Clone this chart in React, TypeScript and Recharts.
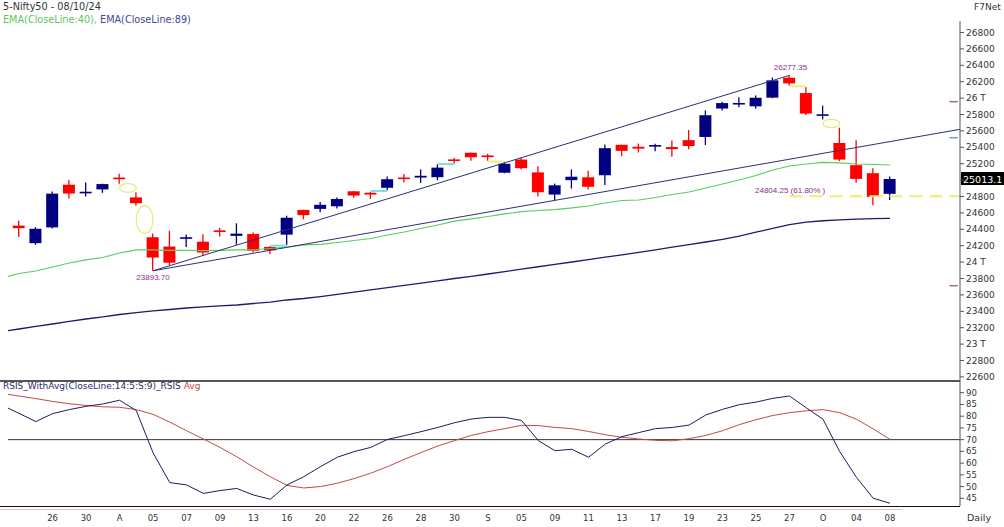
import React from 'react';
import {
  ComposedChart,
  Line,
  Bar,
  XAxis,
  YAxis,
  ReferenceLine,
  ReferenceArea,
  ReferenceDot,
} from 'recharts';

const FONT = '"DejaVu Sans", Verdana, sans-serif';
const SMALL_FONT = '"Liberation Sans", Arial, sans-serif';

const days = [
  'Jul 24', 'Jul 25', 'Jul 26', 'Jul 29', 'Jul 30', 'Jul 31', 'Aug 01', 'Aug 02', 'Aug 05', 'Aug 06',
  'Aug 07', 'Aug 08', 'Aug 09', 'Aug 12', 'Aug 13', 'Aug 14', 'Aug 16', 'Aug 19', 'Aug 20', 'Aug 21',
  'Aug 22', 'Aug 23', 'Aug 26', 'Aug 27', 'Aug 28', 'Aug 29', 'Aug 30', 'Sep 02', 'Sep 03', 'Sep 04',
  'Sep 05', 'Sep 06', 'Sep 09', 'Sep 10', 'Sep 11', 'Sep 12', 'Sep 13', 'Sep 16', 'Sep 17', 'Sep 18',
  'Sep 19', 'Sep 20', 'Sep 23', 'Sep 24', 'Sep 25', 'Sep 26', 'Sep 27', 'Sep 30', 'Oct 01', 'Oct 03',
  'Oct 04', 'Oct 07', 'Oct 08',
];

const opens = [
  24444.75, 24230.95, 24423.35, 24943.3, 24839.4, 24886.7, 25030.95, 24789.0, 24302.85, 24189.85,
  24289.4, 24248.55, 24386.85, 24320.05, 24342.35, 24184.4, 24334.85, 24636.35, 24648.9, 24680.55,
  24863.4, 24845.4, 24906.1, 25024.8, 25030.8, 25035.3, 25249.7, 25333.6, 25300.45, 25089.95,
  25250.5, 25093.7, 24823.4, 24999.4, 25034.0, 25059.05, 25430.45, 25406.65, 25416.9, 25402.4,
  25487.05, 25525.95, 25872.55, 25921.45, 25899.45, 26005.4, 26248.25, 26061.3, 25788.45, 25452.85,
  25181.9, 25084.1, 24832.2,
];
const highs = [
  24504.25, 24426.15, 24861.15, 24999.75, 24971.75, 24956.5, 25078.3, 24851.9, 24350.05, 24382.6,
  24337.7, 24340.5, 24419.75, 24472.8, 24359.95, 24196.5, 24563.9, 24638.8, 24734.3, 24787.95,
  24867.35, 24858.4, 25043.8, 25073.1, 25129.6, 25192.9, 25268.35, 25333.65, 25321.7, 25216.0,
  25275.45, 25168.75, 24957.5, 25130.5, 25113.7, 25433.35, 25430.5, 25445.7, 25441.65, 25482.2,
  25611.95, 25849.25, 25956.0, 26011.55, 26032.8, 26250.9, 26277.35, 26134.7, 25907.6, 25639.45,
  25485.05, 25143.0, 25044.0,
];
const lows = [
  24307.25, 24210.8, 24410.9, 24774.6, 24798.65, 24844.5, 24956.4, 24686.85, 23893.7, 23960.4,
  24184.9, 24079.7, 24311.2, 24212.1, 24116.5, 24099.7, 24204.5, 24522.95, 24607.2, 24654.5,
  24784.45, 24771.65, 24874.7, 24973.65, 24964.65, 24998.5, 25199.4, 25235.5, 25235.8, 25083.8,
  25127.75, 24801.3, 24753.15, 24896.8, 24885.15, 24941.45, 25292.45, 25336.2, 25352.25, 25285.55,
  25376.05, 25426.6, 25847.35, 25886.85, 25871.35, 25998.4, 26151.4, 25794.1, 25739.2, 25230.3,
  24966.8, 24694.35, 24756.8,
];
const closes = [
  24413.5, 24406.1, 24834.85, 24836.1, 24857.3, 24951.15, 25010.9, 24717.7, 24055.6, 23992.55,
  24297.5, 24117.0, 24367.5, 24347.0, 24139.0, 24143.75, 24541.15, 24572.65, 24698.85, 24770.2,
  24811.5, 24823.15, 25010.6, 25017.75, 25052.35, 25151.95, 25235.9, 25278.7, 25279.85, 25198.7,
  25145.1, 24852.15, 24936.4, 25041.1, 24918.45, 25388.9, 25356.5, 25383.75, 25418.55, 25377.55,
  25415.8, 25790.95, 25939.05, 25940.4, 26004.15, 26216.05, 26178.95, 25810.85, 25796.9, 25250.1,
  25014.6, 24795.75, 25013.15,
];

const ema40 = [
  23861, 23891, 23940, 23989, 24026, 24056, 24111, 24148, 24148, 24144,
  24144, 24141, 24144, 24148, 24150, 24166, 24184, 24209, 24215, 24239,
  24263, 24288, 24330, 24367, 24410, 24452, 24500, 24526, 24556, 24587,
  24615, 24629, 24641, 24660, 24684, 24721, 24751, 24757, 24788, 24824,
  24855, 24904, 24952, 25001, 25056, 25123, 25172, 25196, 25215, 25209,
  25196, 25190, 25184,
];
const ema89 = [
  23184, 23215, 23245, 23276, 23306, 23331, 23361, 23385, 23404, 23422,
  23440, 23453, 23465, 23477, 23495, 23513, 23538, 23556, 23579, 23606,
  23634, 23662, 23689, 23717, 23744, 23772, 23800, 23827, 23855, 23884,
  23913, 23943, 23972, 24001, 24031, 24060, 24089, 24118, 24150, 24182,
  24213, 24245, 24276, 24318, 24365, 24410, 24456, 24487, 24504, 24515,
  24524, 24531, 24534,
];

const rsi = [
  81.2, 77.7, 81.1, 82.8, 84.2, 85.2, 86.8, 82.4, 64.4, 51.7,
  50.7, 47.1, 48.3, 49.2, 46.4, 44.6, 50.7, 54.2, 58.5, 62.5,
  64.9, 66.7, 70.1, 71.7, 73.4, 75.2, 77.2, 78.8, 79.5, 79.5,
  78.2, 69.6, 65.3, 65.9, 62.5, 68.1, 71.3, 73.0, 74.7, 75.2,
  76.2, 80.5, 82.9, 84.9, 86.0, 87.6, 88.6, 83.6, 78.7, 64.9,
  53.9, 45.0, 42.9,
];
const rsiAvg = [
  88.6, 87.5, 86.3, 85.3, 84.6, 84.0, 83.8, 82.8, 80.8, 77.5,
  73.8, 70.3, 66.7, 62.7, 58.3, 54.2, 50.5, 49.4, 50.0, 51.4,
  53.4, 55.7, 58.5, 61.6, 64.5, 67.3, 69.6, 71.8, 73.4, 74.7,
  76.1, 76.0, 75.2, 74.7, 73.5, 72.1, 71.0, 70.3, 69.7, 69.5,
  70.4, 71.8, 73.8, 76.4, 78.5, 80.3, 81.5, 82.3, 82.8, 81.5,
  78.7, 74.6, 70.1,
];

// indicator values of the session before the first visible candle (Jul 23)
const priorDay = { ema40: 23806, ema89: 23154, rsi: 84.6, avg: 89.7 };

const axisLabels = [
  '26', '30', 'A', '05', '07', '09', '13', '16', '20', '22', '26', '28', '30',
  'S', '05', '09', '11', '13', '17', '19', '23', '25', '27', 'O', '04', '08',
];
const axisTickIdx = axisLabels.map((_, k) => 2 + 2 * k);

const priceTicks = Array.from({ length: 22 }, (_, k) => 22600 + 200 * k);
const rsiTicks = [45, 50, 55, 60, 65, 70, 75, 80, 85, 90];
const sideMarkLevels = [25956, 25517, 23712];

const XMIN = -0.66;
const XMAX = 56.18;

const swingLow = { i: 8, price: lows[8] };
const swingHigh = { i: 46, price: highs[46] };
const supportAnchor = { i: 32, price: lows[32] };
const fibLevel = swingHigh.price - 0.618 * (swingHigh.price - swingLow.price);
const supportSlope = (supportAnchor.price - swingLow.price) / (supportAnchor.i - swingLow.i);

const mainData: any[] = [
  { x: -1, ema40: priorDay.ema40, ema89: priorDay.ema89 },
  ...days.map((d, i) => ({
    x: i,
    day: d,
    open: opens[i],
    high: highs[i],
    low: lows[i],
    close: closes[i],
    ema40: ema40[i],
    ema89: ema89[i],
  })),
  { x: XMAX, trendB: swingLow.price + supportSlope * (XMAX - swingLow.i) },
];
mainData[swingLow.i + 1].trendA = swingLow.price;
mainData[swingLow.i + 1].trendB = swingLow.price;
mainData[swingHigh.i + 1].trendA = swingHigh.price;
mainData[supportAnchor.i + 1].trendB = supportAnchor.price;

const rsiData = [
  { x: -1, rsi: priorDay.rsi, avg: priorDay.avg },
  ...days.map((d, i) => ({ x: i, day: d, rsi: rsi[i], avg: rsiAvg[i] })),
];

// price gaps between consecutive sessions
const gaps: { i: number; lo: number; hi: number; up: boolean }[] = [];
for (let i = 0; i < days.length - 1; i++) {
  if (lows[i + 1] > highs[i]) gaps.push({ i, lo: highs[i], hi: lows[i + 1], up: true });
  else if (highs[i + 1] < lows[i]) gaps.push({ i, lo: highs[i + 1], hi: lows[i], up: false });
}

const candleRange = (d: any) => (d.high == null ? null : [d.low, d.high]);

function Candle(props: any) {
  const { x, y, width, height, payload } = props;
  if (!payload || payload.high == null || y == null) return null;
  const cx = x + width / 2;
  const yHigh = Math.min(y, y + height);
  const yLow = Math.max(y, y + height);
  const span = payload.high - payload.low || 1;
  const toY = (v: number) => yHigh + ((payload.high - v) / span) * (yLow - yHigh);
  const up = payload.close >= payload.open;
  const color = up ? '#000080' : '#ff0000';
  let top = toY(Math.max(payload.open, payload.close));
  let bot = toY(Math.min(payload.open, payload.close));
  if (bot - top < 1.6) {
    const mid = (top + bot) / 2;
    top = mid - 0.8;
    bot = mid + 0.8;
  }
  return (
    <g>
      <line x1={cx} x2={cx} y1={yHigh} y2={yLow} stroke={color} strokeWidth={1.3} />
      <rect x={cx - 6} y={top} width={12} height={bot - top} fill={color} />
    </g>
  );
}

function GapEllipse(props: any) {
  const { x, y, width, height } = props;
  return (
    <ellipse
      cx={x + width / 2}
      cy={y + height / 2}
      rx={Math.abs(width) / 2}
      ry={Math.abs(height) / 2}
      fill="none"
      stroke="#eaea80"
      strokeWidth={1.3}
    />
  );
}

const priceFmt = (v: number) => {
  if (v === 25000) return '';
  if (v % 1000 === 0) return `${v / 1000} T`;
  return String(v);
};

const PriceTag = (props: any) => {
  const vb = props.viewBox || {};
  const left = vb.x + vb.width + 1;
  return (
    <g>
      <rect x={left} y={vb.y - 7} width={46} height={13} fill="#000" />
      <text x={left + 2} y={vb.y + 3.5} fill="#fff" fontSize={9.5} fontFamily={FONT}>
        {(Math.floor(closes[closes.length - 1] * 10) / 10).toFixed(1)}
      </text>
    </g>
  );
};

const annot = { fill: '#8a2f8a', fontSize: 8, fontFamily: SMALL_FONT };

export default function App() {
  return (
    <div
      style={{
        position: 'absolute',
        left: 0,
        top: 0,
        width: 1004,
        height: 527,
        background: '#fff',
        overflow: 'hidden',
        fontFamily: FONT,
      }}
    >
      <div style={{ position: 'absolute', left: 0, top: 0 }}>
        <ComposedChart width={1004} height={381} data={mainData} margin={{ top: 21, right: 0, bottom: 0, left: 8 }}>
          <XAxis dataKey="x" type="number" domain={[XMIN, XMAX]} allowDataOverflow hide />
          <YAxis
            orientation="right"
            width={44}
            domain={[22550, 26940]}
            allowDataOverflow
            ticks={priceTicks}
            interval={0}
            tickFormatter={priceFmt}
            tick={{ fontSize: 9, fill: '#333', fontFamily: FONT }}
            tickSize={4}
            tickMargin={2}
            axisLine={{ stroke: '#555' }}
            tickLine={{ stroke: '#555' }}
          />
          {gaps.map((g) =>
            g.hi - g.lo > 50 ? (
              <ReferenceArea
                key={`ga${g.i}`}
                x1={g.i}
                x2={g.i + 1}
                y1={g.lo}
                y2={g.hi}
                shape={GapEllipse}
                ifOverflow="visible"
              />
            ) : (
              <ReferenceLine
                key={`gl${g.i}`}
                segment={[
                  { x: g.i, y: (g.lo + g.hi) / 2 },
                  { x: g.i + 1, y: (g.lo + g.hi) / 2 },
                ]}
                stroke={g.up ? '#7adfe6' : '#eeee80'}
                strokeWidth={2}
              />
            )
          )}
          <Line dataKey="ema89" stroke="#1c1c6e" strokeWidth={1.3} dot={false} activeDot={false} isAnimationActive={false} />
          <Line dataKey="ema40" stroke="#5ccc5c" strokeWidth={1.2} dot={false} activeDot={false} isAnimationActive={false} />
          <Line dataKey="trendA" stroke="#2e2e7a" strokeWidth={1} dot={false} activeDot={false} connectNulls isAnimationActive={false} />
          <Line dataKey="trendB" stroke="#2e2e7a" strokeWidth={1} dot={false} activeDot={false} connectNulls isAnimationActive={false} />
          <ReferenceLine
            segment={[
              { x: swingHigh.i, y: fibLevel },
              { x: XMAX, y: fibLevel },
            ]}
            stroke="#eeee70"
            strokeWidth={2}
            strokeDasharray="13 7"
          />
          <Bar dataKey={candleRange} shape={Candle} barSize={12} isAnimationActive={false} />
          <ReferenceDot
            x={swingLow.i}
            y={swingLow.price}
            r={1}
            fill="none"
            stroke="none"
            label={(p: any) => (
              <text x={p.viewBox.x + p.viewBox.width / 2} y={p.viewBox.y + 10} textAnchor="middle" {...annot}>
                {swingLow.price.toFixed(2)}
              </text>
            )}
          />
          <ReferenceDot
            x={swingHigh.i}
            y={swingHigh.price}
            r={1}
            fill="none"
            stroke="none"
            label={(p: any) => (
              <text x={p.viewBox.x + p.viewBox.width / 2 + 1} y={p.viewBox.y - 4} textAnchor="middle" {...annot}>
                {swingHigh.price.toFixed(2)}
              </text>
            )}
          />
          <ReferenceDot
            x={44}
            y={fibLevel}
            r={1}
            fill="none"
            stroke="none"
            label={(p: any) => (
              <text x={p.viewBox.x} y={p.viewBox.y - 2} textAnchor="start" {...annot}>
                {`${fibLevel.toFixed(2)} (61.80% )`}
              </text>
            )}
          />
          {sideMarkLevels.map((lv, k) => (
            <ReferenceLine
              key={`sm${k}`}
              segment={[
                { x: 55.55, y: lv },
                { x: 56.05, y: lv },
              ]}
              stroke={k === 1 ? '#6a9ad8' : '#a86a8a'}
              strokeWidth={1.5}
            />
          ))}
          <ReferenceLine y={closes[closes.length - 1]} stroke="none" label={PriceTag} />
        </ComposedChart>
      </div>

      <div style={{ position: 'absolute', left: 0, top: 381 }}>
        <ComposedChart width={1004} height={146} data={rsiData} margin={{ top: 0, right: 0, bottom: 0, left: 8 }}>
          <XAxis
            dataKey="x"
            type="number"
            domain={[XMIN, XMAX]}
            allowDataOverflow
            ticks={axisTickIdx}
            interval={0}
            tickFormatter={(v: number) => axisLabels[axisTickIdx.indexOf(v)] ?? ''}
            height={21}
            axisLine={false}
            tickLine={false}
            tickSize={6}
            tickMargin={3}
            tick={{ fontSize: 8.5, fill: '#333', fontFamily: FONT }}
          />
          <YAxis
            orientation="right"
            width={44}
            domain={[41.72, 95]}
            allowDataOverflow
            ticks={rsiTicks}
            interval={0}
            tick={{ fontSize: 8.5, fill: '#333', fontFamily: FONT }}
            tickSize={4}
            tickMargin={2}
            axisLine={{ stroke: '#555' }}
            tickLine={{ stroke: '#555' }}
          />
          <ReferenceLine y={70} stroke="#333" strokeWidth={1} />
          <Line dataKey="avg" stroke="#c24a4a" strokeWidth={1} dot={false} activeDot={false} isAnimationActive={false} />
          <Line dataKey="rsi" stroke="#1e1e5a" strokeWidth={1} dot={false} activeDot={false} isAnimationActive={false} />
        </ComposedChart>
      </div>

      <div style={{ position: 'absolute', left: 0, top: 380, width: 960, height: 1.5, background: '#555' }} />
      <div style={{ position: 'absolute', left: 0, top: 505.5, width: 960, height: 1.5, background: '#111' }} />
      <div style={{ position: 'absolute', left: 0, top: 508.5, width: 902, height: 1, background: '#eebcbc' }} />

      <span style={{ position: 'absolute', left: 3, top: 1.5, fontSize: 9.7, lineHeight: 1, color: '#333', whiteSpace: 'nowrap' }}>
        5-Nifty50 - 08/10/24
      </span>
      <span style={{ position: 'absolute', left: 3, top: 14.5, fontSize: 9.7, lineHeight: 1, whiteSpace: 'nowrap' }}>
        <span style={{ color: '#5cc65c' }}>EMA(CloseLine:40),</span>{' '}
        <span style={{ color: '#45459a' }}>EMA(CloseLine:89)</span>
      </span>
      <span style={{ position: 'absolute', left: 974, top: 3, fontSize: 9, lineHeight: 1, color: '#333', whiteSpace: 'nowrap' }}>
        F7Net
      </span>
      <span style={{ position: 'absolute', left: 3, top: 381.5, fontSize: 9, lineHeight: 1, whiteSpace: 'nowrap' }}>
        <span style={{ color: '#2a2a6a' }}>RSIS_WithAvg(CloseLine:14:5:S:9)_RSIS</span>{' '}
        <span style={{ color: '#c04848' }}>Avg</span>
      </span>
      <span style={{ position: 'absolute', left: 967, top: 513, fontSize: 9.5, lineHeight: 1, color: '#333', whiteSpace: 'nowrap' }}>
        Daily
      </span>
    </div>
  );
}
